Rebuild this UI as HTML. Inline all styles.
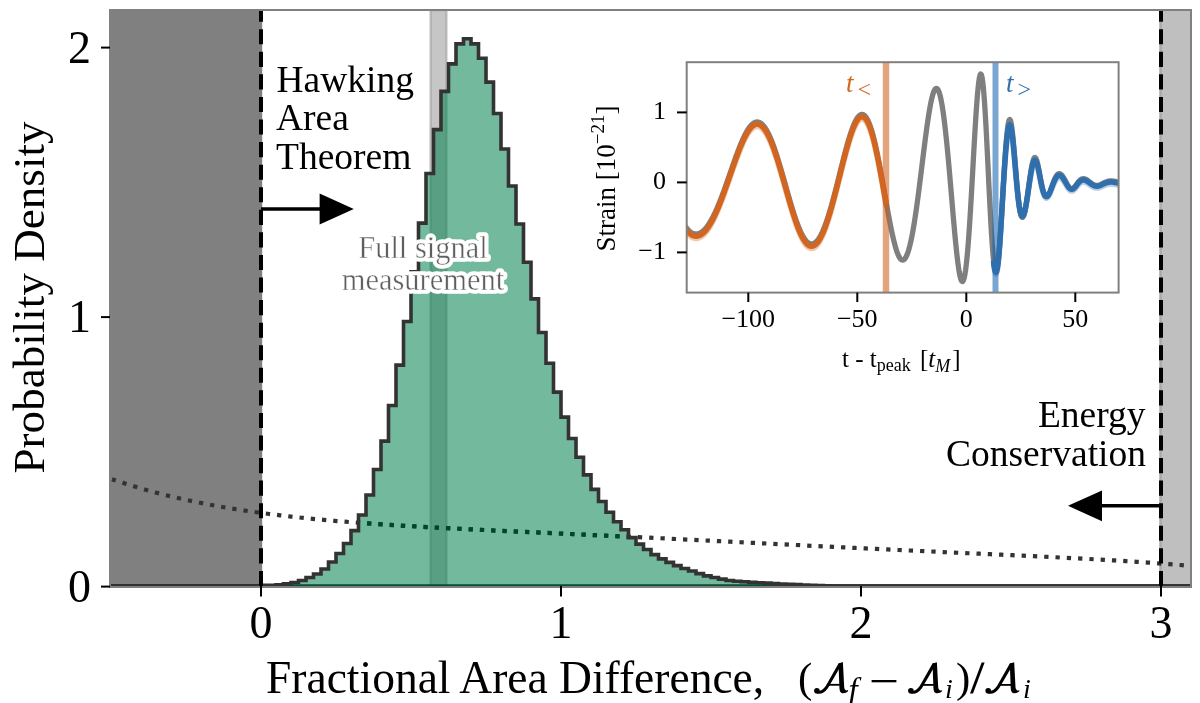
<!DOCTYPE html>
<html><head><meta charset="utf-8"><style>
html,body{margin:0;padding:0;background:#fff;width:1200px;height:703px;overflow:hidden}
svg{display:block;will-change:transform}
</style></head><body>
<svg width="1200" height="703" viewBox="0 0 1200 703">
<defs>
<clipPath id="axclip"><rect x="110.0" y="10.0" width="1081.0" height="576.0"/></clipPath>
<clipPath id="hclip"><path d="M105.00,586.00 L261.00,586.00 L261.00,585.41 L268.50,585.41 L268.50,585.19 L276.00,585.19 L276.00,584.71 L283.50,584.71 L283.50,583.71 L291.00,583.71 L291.00,582.52 L298.50,582.52 L298.50,580.50 L306.00,580.50 L306.00,577.51 L313.50,577.51 L313.50,574.01 L321.00,574.01 L321.00,569.02 L328.50,569.02 L328.50,562.01 L336.00,562.01 L336.00,553.53 L343.50,553.53 L343.50,543.55 L351.00,543.55 L351.00,530.62 L358.50,530.62 L358.50,514.99 L366.00,514.99 L366.00,495.04 L373.50,495.04 L373.50,469.44 L381.00,469.44 L381.00,441.14 L388.50,441.14 L388.50,405.57 L396.00,405.57 L396.00,365.14 L403.50,365.14 L403.50,321.49 L411.00,321.49 L411.00,271.90 L418.50,271.90 L418.50,223.12 L426.00,223.12 L426.00,173.53 L433.50,173.53 L433.50,129.60 L441.00,129.60 L441.00,91.33 L448.50,91.33 L448.50,63.84 L456.00,63.84 L456.00,43.90 L463.50,43.90 L463.50,38.78 L471.00,38.78 L471.00,43.90 L478.50,43.90 L478.50,58.18 L486.00,58.18 L486.00,82.17 L493.50,82.17 L493.50,113.43 L501.00,113.43 L501.00,149.01 L508.50,149.01 L508.50,185.93 L516.00,185.93 L516.00,223.93 L523.50,223.93 L523.50,262.20 L531.00,262.20 L531.00,298.85 L538.50,298.85 L538.50,332.54 L546.00,332.54 L546.00,363.26 L553.50,363.26 L553.50,392.09 L561.00,392.09 L561.00,417.16 L568.50,417.16 L568.50,438.45 L576.00,438.45 L576.00,457.31 L583.50,457.31 L583.50,474.83 L591.00,474.83 L591.00,489.38 L598.50,489.38 L598.50,501.51 L606.00,501.51 L606.00,512.29 L613.50,512.29 L613.50,521.72 L621.00,521.72 L621.00,529.81 L628.50,529.81 L628.50,537.62 L636.00,537.62 L636.00,544.09 L643.50,544.09 L643.50,549.48 L651.00,549.48 L651.00,554.60 L658.50,554.60 L658.50,558.92 L666.00,558.92 L666.00,562.42 L673.50,562.42 L673.50,565.65 L681.00,565.65 L681.00,568.43 L688.50,568.43 L688.50,571.04 L696.00,571.04 L696.00,573.60 L703.50,573.60 L703.50,575.89 L711.00,575.89 L711.00,577.51 L718.50,577.51 L718.50,579.13 L726.00,579.13 L726.00,580.48 L733.50,580.48 L733.50,581.28 L741.00,581.28 L741.00,581.82 L748.50,581.82 L748.50,582.36 L756.00,582.36 L756.00,582.77 L763.50,582.77 L763.50,583.17 L771.00,583.17 L771.00,583.57 L778.50,583.57 L778.50,583.98 L786.00,583.98 L786.00,584.25 L793.50,584.25 L793.50,584.65 L801.00,584.65 L801.00,585.06 L808.50,585.06 L808.50,585.33 L816.00,585.33 L816.00,585.61 L823.50,585.61 L823.50,585.85 L831.00,585.85 L831.00,586.00 L838.50,586.00 L838.50,586.00 L846.00,586.00 L846.00,586.00 L853.50,586.00 L853.50,586.00 L861.00,586.00 L861.00,586.00 L868.50,586.00 L868.50,586.00 L876.00,586.00 L876.00,586.00 L883.50,586.00 L883.50,586.00 L891.00,586.00 L891.00,586.00 L1196.00,586.00 Z"/></clipPath>
<clipPath id="inclip"><rect x="686.7" y="62.2" width="431.89999999999986" height="230.40000000000003"/></clipPath>
</defs>
<rect width="1200" height="703" fill="#fff"/>
<g clip-path="url(#axclip)">
<rect x="110.0" y="10.0" width="152.2" height="576.0" fill="#808080"/>
<rect x="1161.0" y="10.0" width="30.0" height="576.0" fill="#bfbfbf"/><line x1="1160.5" y1="10.0" x2="1160.5" y2="586.0" stroke="#a9a9a9" stroke-width="2.5"/>
<rect x="430.5" y="10.0" width="16" height="576.0" fill="#808080" fill-opacity="0.45" stroke="#808080" stroke-opacity="0.4" stroke-width="2.3"/>
<path d="M112.00,479.16 L117.42,481.02 L122.84,482.81 L128.27,484.55 L133.69,486.23 L139.11,487.86 L144.53,489.43 L149.95,490.95 L155.38,492.42 L160.80,493.84 L166.22,495.21 L171.64,496.54 L177.07,497.82 L182.49,499.06 L187.91,500.25 L193.33,501.41 L198.75,502.52 L204.18,503.60 L209.60,504.64 L215.02,505.64 L220.44,506.61 L225.86,507.55 L231.29,508.45 L236.71,509.32 L242.13,510.17 L247.55,510.98 L252.97,511.76 L258.40,512.52 L263.82,513.25 L269.24,513.96 L274.66,514.64 L280.09,515.30 L285.51,515.94 L290.93,516.55 L296.35,517.14 L301.77,517.72 L307.20,518.27 L312.62,518.81 L318.04,519.33 L323.46,519.83 L328.88,520.32 L334.31,520.79 L339.73,521.24 L345.15,521.69 L350.57,522.12 L355.99,522.53 L361.42,522.94 L366.84,523.33 L372.26,523.71 L377.68,524.08 L383.11,524.45 L388.53,524.80 L393.95,525.14 L399.37,525.48 L404.79,525.81 L410.22,526.13 L415.64,526.44 L421.06,526.75 L426.48,527.06 L431.90,527.35 L437.33,527.64 L442.75,527.93 L448.17,528.21 L453.59,528.49 L459.02,528.77 L464.44,529.04 L469.86,529.30 L475.28,529.57 L480.70,529.83 L486.13,530.09 L491.55,530.35 L496.97,530.61 L502.39,530.86 L507.81,531.12 L513.24,531.37 L518.66,531.62 L524.08,531.87 L529.50,532.12 L534.92,532.37 L540.35,532.62 L545.77,532.87 L551.19,533.12 L556.61,533.37 L562.04,533.62 L567.46,533.87 L572.88,534.12 L578.30,534.37 L583.72,534.62 L589.15,534.87 L594.57,535.12 L599.99,535.38 L605.41,535.63 L610.83,535.88 L616.26,536.14 L621.68,536.40 L627.10,536.65 L632.52,536.91 L637.94,537.17 L643.37,537.43 L648.79,537.69 L654.21,537.96 L659.63,538.22 L665.06,538.48 L670.48,538.75 L675.90,539.01 L681.32,539.28 L686.74,539.55 L692.17,539.81 L697.59,540.08 L703.01,540.35 L708.43,540.62 L713.85,540.89 L719.28,541.16 L724.70,541.43 L730.12,541.70 L735.54,541.98 L740.96,542.25 L746.39,542.52 L751.81,542.79 L757.23,543.07 L762.65,543.34 L768.08,543.61 L773.50,543.88 L778.92,544.15 L784.34,544.42 L789.76,544.70 L795.19,544.97 L800.61,545.24 L806.03,545.51 L811.45,545.78 L816.87,546.05 L822.30,546.31 L827.72,546.58 L833.14,546.85 L838.56,547.11 L843.98,547.38 L849.41,547.64 L854.83,547.91 L860.25,548.17 L865.67,548.43 L871.10,548.69 L876.52,548.95 L881.94,549.21 L887.36,549.47 L892.78,549.72 L898.21,549.98 L903.63,550.23 L909.05,550.49 L914.47,550.74 L919.89,550.99 L925.32,551.24 L930.74,551.49 L936.16,551.74 L941.58,551.99 L947.01,552.24 L952.43,552.49 L957.85,552.73 L963.27,552.98 L968.69,553.23 L974.12,553.47 L979.54,553.72 L984.96,553.97 L990.38,554.21 L995.80,554.46 L1001.23,554.71 L1006.65,554.96 L1012.07,555.21 L1017.49,555.46 L1022.91,555.71 L1028.34,555.96 L1033.76,556.22 L1039.18,556.48 L1044.60,556.74 L1050.03,557.00 L1055.45,557.26 L1060.87,557.53 L1066.29,557.80 L1071.71,558.08 L1077.14,558.36 L1082.56,558.64 L1087.98,558.93 L1093.40,559.23 L1098.82,559.53 L1104.25,559.83 L1109.67,560.15 L1115.09,560.47 L1120.51,560.79 L1125.93,561.13 L1131.36,561.47 L1136.78,561.82 L1142.20,562.18 L1147.62,562.55 L1153.05,562.93 L1158.47,563.33 L1163.89,563.73 L1169.31,564.15 L1174.73,564.57 L1180.16,565.02 L1185.58,565.47 L1191.00,565.94" fill="none" stroke="#333" stroke-width="4.2" stroke-dasharray="4.3 7.0" stroke-dashoffset="0.3"/>
<path d="M112.00,479.16 L117.42,481.02 L122.84,482.81 L128.27,484.55 L133.69,486.23 L139.11,487.86 L144.53,489.43 L149.95,490.95 L155.38,492.42 L160.80,493.84 L166.22,495.21 L171.64,496.54 L177.07,497.82 L182.49,499.06 L187.91,500.25 L193.33,501.41 L198.75,502.52 L204.18,503.60 L209.60,504.64 L215.02,505.64 L220.44,506.61 L225.86,507.55 L231.29,508.45 L236.71,509.32 L242.13,510.17 L247.55,510.98 L252.97,511.76 L258.40,512.52 L263.82,513.25 L269.24,513.96 L274.66,514.64 L280.09,515.30 L285.51,515.94 L290.93,516.55 L296.35,517.14 L301.77,517.72 L307.20,518.27 L312.62,518.81 L318.04,519.33 L323.46,519.83 L328.88,520.32 L334.31,520.79 L339.73,521.24 L345.15,521.69 L350.57,522.12 L355.99,522.53 L361.42,522.94 L366.84,523.33 L372.26,523.71 L377.68,524.08 L383.11,524.45 L388.53,524.80 L393.95,525.14 L399.37,525.48 L404.79,525.81 L410.22,526.13 L415.64,526.44 L421.06,526.75 L426.48,527.06 L431.90,527.35 L437.33,527.64 L442.75,527.93 L448.17,528.21 L453.59,528.49 L459.02,528.77 L464.44,529.04 L469.86,529.30 L475.28,529.57 L480.70,529.83 L486.13,530.09 L491.55,530.35 L496.97,530.61 L502.39,530.86 L507.81,531.12 L513.24,531.37 L518.66,531.62 L524.08,531.87 L529.50,532.12 L534.92,532.37 L540.35,532.62 L545.77,532.87 L551.19,533.12 L556.61,533.37 L562.04,533.62 L567.46,533.87 L572.88,534.12 L578.30,534.37 L583.72,534.62 L589.15,534.87 L594.57,535.12 L599.99,535.38 L605.41,535.63 L610.83,535.88 L616.26,536.14 L621.68,536.40 L627.10,536.65 L632.52,536.91 L637.94,537.17 L643.37,537.43 L648.79,537.69 L654.21,537.96 L659.63,538.22 L665.06,538.48 L670.48,538.75 L675.90,539.01 L681.32,539.28 L686.74,539.55 L692.17,539.81 L697.59,540.08 L703.01,540.35 L708.43,540.62 L713.85,540.89 L719.28,541.16 L724.70,541.43 L730.12,541.70 L735.54,541.98 L740.96,542.25 L746.39,542.52 L751.81,542.79 L757.23,543.07 L762.65,543.34 L768.08,543.61 L773.50,543.88 L778.92,544.15 L784.34,544.42 L789.76,544.70 L795.19,544.97 L800.61,545.24 L806.03,545.51 L811.45,545.78 L816.87,546.05 L822.30,546.31 L827.72,546.58 L833.14,546.85 L838.56,547.11 L843.98,547.38 L849.41,547.64 L854.83,547.91 L860.25,548.17 L865.67,548.43 L871.10,548.69 L876.52,548.95 L881.94,549.21 L887.36,549.47 L892.78,549.72 L898.21,549.98 L903.63,550.23 L909.05,550.49 L914.47,550.74 L919.89,550.99 L925.32,551.24 L930.74,551.49 L936.16,551.74 L941.58,551.99 L947.01,552.24 L952.43,552.49 L957.85,552.73 L963.27,552.98 L968.69,553.23 L974.12,553.47 L979.54,553.72 L984.96,553.97 L990.38,554.21 L995.80,554.46 L1001.23,554.71 L1006.65,554.96 L1012.07,555.21 L1017.49,555.46 L1022.91,555.71 L1028.34,555.96 L1033.76,556.22 L1039.18,556.48 L1044.60,556.74 L1050.03,557.00 L1055.45,557.26 L1060.87,557.53 L1066.29,557.80 L1071.71,558.08 L1077.14,558.36 L1082.56,558.64 L1087.98,558.93 L1093.40,559.23 L1098.82,559.53 L1104.25,559.83 L1109.67,560.15 L1115.09,560.47 L1120.51,560.79 L1125.93,561.13 L1131.36,561.47 L1136.78,561.82 L1142.20,562.18 L1147.62,562.55 L1153.05,562.93 L1158.47,563.33 L1163.89,563.73 L1169.31,564.15 L1174.73,564.57 L1180.16,565.02 L1185.58,565.47 L1191.00,565.94" clip-path="url(#hclip)" fill="none" stroke="#000" stroke-width="4.2" stroke-dasharray="4.3 7.0" stroke-dashoffset="0.3"/>
<line x1="110.0" y1="585.1" x2="1191.0" y2="585.1" stroke="#111" stroke-width="1.8"/>
<path d="M105.00,586.00 L261.00,586.00 L261.00,585.41 L268.50,585.41 L268.50,585.19 L276.00,585.19 L276.00,584.71 L283.50,584.71 L283.50,583.71 L291.00,583.71 L291.00,582.52 L298.50,582.52 L298.50,580.50 L306.00,580.50 L306.00,577.51 L313.50,577.51 L313.50,574.01 L321.00,574.01 L321.00,569.02 L328.50,569.02 L328.50,562.01 L336.00,562.01 L336.00,553.53 L343.50,553.53 L343.50,543.55 L351.00,543.55 L351.00,530.62 L358.50,530.62 L358.50,514.99 L366.00,514.99 L366.00,495.04 L373.50,495.04 L373.50,469.44 L381.00,469.44 L381.00,441.14 L388.50,441.14 L388.50,405.57 L396.00,405.57 L396.00,365.14 L403.50,365.14 L403.50,321.49 L411.00,321.49 L411.00,271.90 L418.50,271.90 L418.50,223.12 L426.00,223.12 L426.00,173.53 L433.50,173.53 L433.50,129.60 L441.00,129.60 L441.00,91.33 L448.50,91.33 L448.50,63.84 L456.00,63.84 L456.00,43.90 L463.50,43.90 L463.50,38.78 L471.00,38.78 L471.00,43.90 L478.50,43.90 L478.50,58.18 L486.00,58.18 L486.00,82.17 L493.50,82.17 L493.50,113.43 L501.00,113.43 L501.00,149.01 L508.50,149.01 L508.50,185.93 L516.00,185.93 L516.00,223.93 L523.50,223.93 L523.50,262.20 L531.00,262.20 L531.00,298.85 L538.50,298.85 L538.50,332.54 L546.00,332.54 L546.00,363.26 L553.50,363.26 L553.50,392.09 L561.00,392.09 L561.00,417.16 L568.50,417.16 L568.50,438.45 L576.00,438.45 L576.00,457.31 L583.50,457.31 L583.50,474.83 L591.00,474.83 L591.00,489.38 L598.50,489.38 L598.50,501.51 L606.00,501.51 L606.00,512.29 L613.50,512.29 L613.50,521.72 L621.00,521.72 L621.00,529.81 L628.50,529.81 L628.50,537.62 L636.00,537.62 L636.00,544.09 L643.50,544.09 L643.50,549.48 L651.00,549.48 L651.00,554.60 L658.50,554.60 L658.50,558.92 L666.00,558.92 L666.00,562.42 L673.50,562.42 L673.50,565.65 L681.00,565.65 L681.00,568.43 L688.50,568.43 L688.50,571.04 L696.00,571.04 L696.00,573.60 L703.50,573.60 L703.50,575.89 L711.00,575.89 L711.00,577.51 L718.50,577.51 L718.50,579.13 L726.00,579.13 L726.00,580.48 L733.50,580.48 L733.50,581.28 L741.00,581.28 L741.00,581.82 L748.50,581.82 L748.50,582.36 L756.00,582.36 L756.00,582.77 L763.50,582.77 L763.50,583.17 L771.00,583.17 L771.00,583.57 L778.50,583.57 L778.50,583.98 L786.00,583.98 L786.00,584.25 L793.50,584.25 L793.50,584.65 L801.00,584.65 L801.00,585.06 L808.50,585.06 L808.50,585.33 L816.00,585.33 L816.00,585.61 L823.50,585.61 L823.50,585.85 L831.00,585.85 L831.00,586.00 L838.50,586.00 L838.50,586.00 L846.00,586.00 L846.00,586.00 L853.50,586.00 L853.50,586.00 L861.00,586.00 L861.00,586.00 L868.50,586.00 L868.50,586.00 L876.00,586.00 L876.00,586.00 L883.50,586.00 L883.50,586.00 L891.00,586.00 L891.00,586.00 L1196.00,586.00 Z" fill="#00804f" fill-opacity="0.55"/>
<path d="M105.00,586.00 L261.00,586.00 L261.00,585.41 L268.50,585.41 L268.50,585.19 L276.00,585.19 L276.00,584.71 L283.50,584.71 L283.50,583.71 L291.00,583.71 L291.00,582.52 L298.50,582.52 L298.50,580.50 L306.00,580.50 L306.00,577.51 L313.50,577.51 L313.50,574.01 L321.00,574.01 L321.00,569.02 L328.50,569.02 L328.50,562.01 L336.00,562.01 L336.00,553.53 L343.50,553.53 L343.50,543.55 L351.00,543.55 L351.00,530.62 L358.50,530.62 L358.50,514.99 L366.00,514.99 L366.00,495.04 L373.50,495.04 L373.50,469.44 L381.00,469.44 L381.00,441.14 L388.50,441.14 L388.50,405.57 L396.00,405.57 L396.00,365.14 L403.50,365.14 L403.50,321.49 L411.00,321.49 L411.00,271.90 L418.50,271.90 L418.50,223.12 L426.00,223.12 L426.00,173.53 L433.50,173.53 L433.50,129.60 L441.00,129.60 L441.00,91.33 L448.50,91.33 L448.50,63.84 L456.00,63.84 L456.00,43.90 L463.50,43.90 L463.50,38.78 L471.00,38.78 L471.00,43.90 L478.50,43.90 L478.50,58.18 L486.00,58.18 L486.00,82.17 L493.50,82.17 L493.50,113.43 L501.00,113.43 L501.00,149.01 L508.50,149.01 L508.50,185.93 L516.00,185.93 L516.00,223.93 L523.50,223.93 L523.50,262.20 L531.00,262.20 L531.00,298.85 L538.50,298.85 L538.50,332.54 L546.00,332.54 L546.00,363.26 L553.50,363.26 L553.50,392.09 L561.00,392.09 L561.00,417.16 L568.50,417.16 L568.50,438.45 L576.00,438.45 L576.00,457.31 L583.50,457.31 L583.50,474.83 L591.00,474.83 L591.00,489.38 L598.50,489.38 L598.50,501.51 L606.00,501.51 L606.00,512.29 L613.50,512.29 L613.50,521.72 L621.00,521.72 L621.00,529.81 L628.50,529.81 L628.50,537.62 L636.00,537.62 L636.00,544.09 L643.50,544.09 L643.50,549.48 L651.00,549.48 L651.00,554.60 L658.50,554.60 L658.50,558.92 L666.00,558.92 L666.00,562.42 L673.50,562.42 L673.50,565.65 L681.00,565.65 L681.00,568.43 L688.50,568.43 L688.50,571.04 L696.00,571.04 L696.00,573.60 L703.50,573.60 L703.50,575.89 L711.00,575.89 L711.00,577.51 L718.50,577.51 L718.50,579.13 L726.00,579.13 L726.00,580.48 L733.50,580.48 L733.50,581.28 L741.00,581.28 L741.00,581.82 L748.50,581.82 L748.50,582.36 L756.00,582.36 L756.00,582.77 L763.50,582.77 L763.50,583.17 L771.00,583.17 L771.00,583.57 L778.50,583.57 L778.50,583.98 L786.00,583.98 L786.00,584.25 L793.50,584.25 L793.50,584.65 L801.00,584.65 L801.00,585.06 L808.50,585.06 L808.50,585.33 L816.00,585.33 L816.00,585.61 L823.50,585.61 L823.50,585.85 L831.00,585.85 L831.00,586.00 L838.50,586.00 L838.50,586.00 L846.00,586.00 L846.00,586.00 L853.50,586.00 L853.50,586.00 L861.00,586.00 L861.00,586.00 L868.50,586.00 L868.50,586.00 L876.00,586.00 L876.00,586.00 L883.50,586.00 L883.50,586.00 L891.00,586.00 L891.00,586.00 L1196.00,586.00" fill="none" stroke="#333" stroke-width="3.6" stroke-linejoin="miter"/>
<line x1="261.0" y1="586.0" x2="261.0" y2="10.0" stroke="#000" stroke-width="4" stroke-dasharray="15.1 7.47"/>
<line x1="1161.0" y1="586.0" x2="1161.0" y2="10.0" stroke="#000" stroke-width="4" stroke-dasharray="15.1 7.47"/>
</g>
<path d="M110.0,10.0 L1191.0,10.0 M110.0,9.0 L110.0,588.0 M1191.0,9.0 L1191.0,588.0 M109.0,587.0 L1192.0,587.0" fill="none" stroke="#808080" stroke-width="2"/>
<line x1="101" y1="586.6" x2="110.0" y2="586.6" stroke="#000" stroke-width="2"/>
<text x="91" y="601.5" text-anchor="end" font-family='"Liberation Serif", serif' font-size="46">0</text>
<line x1="101" y1="317.1" x2="110.0" y2="317.1" stroke="#000" stroke-width="2"/>
<text x="91" y="332.0" text-anchor="end" font-family='"Liberation Serif", serif' font-size="46">1</text>
<line x1="101" y1="47.6" x2="110.0" y2="47.6" stroke="#000" stroke-width="2"/>
<text x="91" y="62.5" text-anchor="end" font-family='"Liberation Serif", serif' font-size="46">2</text>
<line x1="261.0" y1="586.0" x2="261.0" y2="596.5" stroke="#000" stroke-width="2"/>
<text x="261.0" y="637.5" text-anchor="middle" font-family='"Liberation Serif", serif' font-size="46">0</text>
<line x1="561.0" y1="586.0" x2="561.0" y2="596.5" stroke="#000" stroke-width="2"/>
<text x="561.0" y="637.5" text-anchor="middle" font-family='"Liberation Serif", serif' font-size="46">1</text>
<line x1="861.0" y1="586.0" x2="861.0" y2="596.5" stroke="#000" stroke-width="2"/>
<text x="861.0" y="637.5" text-anchor="middle" font-family='"Liberation Serif", serif' font-size="46">2</text>
<line x1="1161.0" y1="586.0" x2="1161.0" y2="596.5" stroke="#000" stroke-width="2"/>
<text x="1161.0" y="637.5" text-anchor="middle" font-family='"Liberation Serif", serif' font-size="46">3</text>
<text transform="translate(43.5,297.5) rotate(-90)" text-anchor="middle" font-family='"Liberation Serif", serif' font-size="45.1">Probability Density</text>
<text x="266" y="692.8" font-family='"Liberation Serif", serif' font-size="45.5">Fractional Area Difference,</text>
<g fill="#000"><text x="798" y="692" font-family='"Liberation Serif", serif' font-size="43">(</text><g transform="translate(816.9,690.7)"><circle cx="0" cy="0" r="2.8"/><path d="M0,2.8 C4,3.8 7.5,2 11,-2.5 L26,-28.4 L21.6,-27.2 L9,-5 C6,-0.8 3.5,0.5 0,0.3 Z"/><path d="M21.6,-27.2 L26,-28.4 L27.3,-3.5 C27.5,-1 29,0.3 31,-0.6 L31.3,0.2 C29.3,2.6 25,3.3 23.5,1.2 C22.8,0.2 22.6,-1.5 22.5,-3.5 Z"/><path d="M10,-6.8 L23,-6.8 L23,-5 L10,-5 Z"/></g><text x="848.5" y="701" font-family='"Liberation Serif", serif' font-size="33" font-style="italic">f</text><rect x="871.6" y="680" width="24.8" height="2.3"/><g transform="translate(910.9,690.8)"><circle cx="0" cy="0" r="2.8"/><path d="M0,2.8 C4,3.8 7.5,2 11,-2.5 L26,-28.4 L21.6,-27.2 L9,-5 C6,-0.8 3.5,0.5 0,0.3 Z"/><path d="M21.6,-27.2 L26,-28.4 L27.3,-3.5 C27.5,-1 29,0.3 31,-0.6 L31.3,0.2 C29.3,2.6 25,3.3 23.5,1.2 C22.8,0.2 22.6,-1.5 22.5,-3.5 Z"/><path d="M10,-6.8 L23,-6.8 L23,-5 L10,-5 Z"/></g><text x="945" y="698" font-family='"Liberation Serif", serif' font-size="28" font-style="italic">i</text><text x="956" y="692" font-family='"Liberation Serif", serif' font-size="43">)</text><path d="M981.6,662.4 L984.6,662.4 L973,693.5 L970,693.5 Z"/><g transform="translate(988.2,690.8)"><circle cx="0" cy="0" r="2.8"/><path d="M0,2.8 C4,3.8 7.5,2 11,-2.5 L26,-28.4 L21.6,-27.2 L9,-5 C6,-0.8 3.5,0.5 0,0.3 Z"/><path d="M21.6,-27.2 L26,-28.4 L27.3,-3.5 C27.5,-1 29,0.3 31,-0.6 L31.3,0.2 C29.3,2.6 25,3.3 23.5,1.2 C22.8,0.2 22.6,-1.5 22.5,-3.5 Z"/><path d="M10,-6.8 L23,-6.8 L23,-5 L10,-5 Z"/></g><text x="1023" y="698" font-family='"Liberation Serif", serif' font-size="28" font-style="italic">i</text></g>
<g font-family='"Liberation Serif", serif' font-size="37.5"><text x="276.5" y="91.8">Hawking</text><text x="276" y="129.8">Area</text><text x="276" y="168.9">Theorem</text></g>
<g font-family='"Liberation Serif", serif' font-size="37.5" text-anchor="end"><text x="1145.5" y="427">Energy</text><text x="1146" y="465.6">Conservation</text></g>
<line x1="261.0" y1="209.1" x2="322" y2="209.1" stroke="#000" stroke-width="3.5"/><path d="M319.6,193.6 L353.8,209.1 L319.6,224.5 Z" fill="#000"/>
<line x1="1161.0" y1="505.8" x2="1099" y2="505.8" stroke="#000" stroke-width="3.5"/><path d="M1102,490.4 L1068,505.8 L1102,521.2 Z" fill="#000"/>
<g font-family='"Liberation Serif", serif' font-size="30.5" text-anchor="middle"><g stroke="#fff" stroke-width="7.5" stroke-linejoin="round" fill="#fff"><text x="423" y="258">Full signal</text><text x="423" y="289.7">measurement</text></g><g fill="#5e5e5e" stroke="#fff" stroke-width="0.45"><text x="423" y="258">Full signal</text><text x="423" y="289.7">measurement</text></g></g>
<rect x="686.7" y="62.2" width="431.89999999999986" height="230.40000000000003" fill="#fff"/>
<g clip-path="url(#inclip)"><path d="M681.70,220.28 L682.33,221.43 L682.96,222.54 L683.60,223.60 L684.23,224.62 L684.86,225.58 L685.49,226.50 L686.13,227.36 L686.76,228.18 L687.39,228.94 L688.02,229.65 L688.65,230.31 L689.29,230.91 L689.92,231.47 L690.55,231.97 L691.18,232.41 L691.82,232.80 L692.45,233.13 L693.08,233.42 L693.71,233.64 L694.34,233.81 L694.98,233.93 L695.61,233.99 L696.24,234.00 L696.87,233.95 L697.50,233.86 L698.14,233.72 L698.77,233.53 L699.40,233.29 L700.03,233.00 L700.67,232.66 L701.30,232.27 L701.93,231.84 L702.56,231.36 L703.19,230.83 L703.83,230.25 L704.46,229.63 L705.09,228.96 L705.72,228.24 L706.36,227.48 L706.99,226.67 L707.62,225.82 L708.25,224.92 L708.88,223.98 L709.52,222.99 L710.15,221.97 L710.78,220.90 L711.41,219.79 L712.05,218.64 L712.68,217.44 L713.31,216.21 L713.94,214.95 L714.57,213.64 L715.21,212.30 L715.84,210.92 L716.47,209.51 L717.10,208.07 L717.73,206.59 L718.37,205.08 L719.00,203.54 L719.63,201.98 L720.26,200.38 L720.90,198.77 L721.53,197.12 L722.16,195.45 L722.79,193.76 L723.42,192.06 L724.06,190.33 L724.69,188.58 L725.32,186.82 L725.95,185.05 L726.59,183.26 L727.22,181.46 L727.85,179.66 L728.48,177.85 L729.11,176.03 L729.75,174.21 L730.38,172.39 L731.01,170.56 L731.64,168.75 L732.28,166.93 L732.91,165.13 L733.54,163.33 L734.17,161.54 L734.80,159.77 L735.44,158.01 L736.07,156.27 L736.70,154.55 L737.33,152.84 L737.96,151.17 L738.60,149.52 L739.23,147.89 L739.86,146.30 L740.49,144.74 L741.13,143.21 L741.76,141.72 L742.39,140.27 L743.02,138.86 L743.65,137.50 L744.29,136.18 L744.92,134.90 L745.55,133.67 L746.18,132.50 L746.82,131.38 L747.45,130.31 L748.08,129.30 L748.71,128.35 L749.34,127.46 L749.98,126.63 L750.61,125.86 L751.24,125.16 L751.87,124.53 L752.51,123.96 L753.14,123.46 L753.77,123.04 L754.40,122.68 L755.03,122.40 L755.67,122.19 L756.30,122.06 L756.93,122.00 L757.56,122.01 L758.19,122.10 L758.83,122.26 L759.46,122.50 L760.09,122.81 L760.72,123.19 L761.36,123.64 L761.99,124.17 L762.62,124.77 L763.25,125.45 L763.88,126.19 L764.52,127.01 L765.15,127.90 L765.78,128.86 L766.41,129.89 L767.05,130.99 L767.68,132.15 L768.31,133.38 L768.94,134.68 L769.57,136.04 L770.21,137.46 L770.84,138.94 L771.47,140.48 L772.10,142.08 L772.74,143.73 L773.37,145.44 L774.00,147.20 L774.63,149.00 L775.26,150.85 L775.90,152.75 L776.53,154.69 L777.16,156.67 L777.79,158.68 L778.42,160.73 L779.06,162.81 L779.69,164.93 L780.32,167.06 L780.95,169.22 L781.59,171.40 L782.22,173.60 L782.85,175.82 L783.48,178.04 L784.11,180.28 L784.75,182.52 L785.38,184.76 L786.01,187.00 L786.64,189.24 L787.28,191.47 L787.91,193.69 L788.54,195.90 L789.17,198.09 L789.80,200.27 L790.44,202.42 L791.07,204.54 L791.70,206.64 L792.33,208.71 L792.97,210.74 L793.60,212.74 L794.23,214.70 L794.86,216.61 L795.49,218.48 L796.13,220.30 L796.76,222.07 L797.39,223.78 L798.02,225.44 L798.65,227.05 L799.29,228.59 L799.92,230.07 L800.55,231.48 L801.18,232.83 L801.82,234.11 L802.45,235.32 L803.08,236.45 L803.71,237.51 L804.34,238.50 L804.98,239.40 L805.61,240.23 L806.24,240.98 L806.87,241.65 L807.51,242.24 L808.14,242.74 L808.77,243.16 L809.40,243.50 L810.03,243.75 L810.67,243.91 L811.30,244.00 L811.93,243.99 L812.56,243.90 L813.20,243.73 L813.83,243.47 L814.46,243.13 L815.09,242.70 L815.72,242.20 L816.36,241.60 L816.99,240.93 L817.62,240.18 L818.25,239.34 L818.88,238.42 L819.52,237.42 L820.15,236.35 L820.78,235.20 L821.41,233.97 L822.05,232.66 L822.68,231.28 L823.31,229.83 L823.94,228.31 L824.57,226.72 L825.21,225.06 L825.84,223.33 L826.47,221.54 L827.10,219.69 L827.74,217.78 L828.37,215.81 L829.00,213.79 L829.63,211.71 L830.26,209.58 L830.90,207.40 L831.53,205.18 L832.16,202.91 L832.79,200.61 L833.43,198.26 L834.06,195.89 L834.69,193.48 L835.32,191.04 L835.95,188.58 L836.59,186.10 L837.22,183.60 L837.85,181.09 L838.48,178.56 L839.12,176.03 L839.75,173.50 L840.38,170.96 L841.01,168.43 L841.64,165.91 L842.28,163.40 L842.91,160.91 L843.54,158.44 L844.17,155.99 L844.80,153.57 L845.44,151.18 L846.07,148.83 L846.70,146.53 L847.33,144.27 L847.97,142.05 L848.60,139.90 L849.23,137.80 L849.86,135.76 L850.49,133.80 L851.13,131.90 L851.76,130.08 L852.39,128.34 L853.02,126.68 L853.66,125.12 L854.29,123.64 L854.92,122.26 L855.55,120.98 L856.18,119.81 L856.82,118.74 L857.45,117.78 L858.08,116.94 L858.71,116.22 L859.35,115.61 L859.98,115.13 L860.61,114.78 L861.24,114.55 L861.87,114.46 L862.51,114.50 L863.14,114.67 L863.77,114.98 L864.40,115.43 L865.03,116.01 L865.67,116.73 L866.30,117.60 L866.93,118.60 L867.56,119.74 L868.20,121.02 L868.83,122.44 L869.46,123.99 L870.09,125.68 L870.72,127.51 L871.36,129.46 L871.99,131.55 L872.62,133.76 L873.25,136.10 L873.89,138.55 L874.52,141.12 L875.15,143.80 L875.78,146.59 L876.41,149.48 L877.05,152.46 L877.68,155.54 L878.31,158.69 L878.94,161.93 L879.58,165.24 L880.21,168.61 L880.84,172.04 L881.47,175.52 L882.10,179.04 L882.74,182.59 L883.37,186.17 L884.00,189.77 L884.63,193.37 L885.26,196.97 L885.90,200.56 L886.53,204.13 L887.16,207.67 L887.79,211.17 L888.43,214.62 L889.06,218.02 L889.69,221.35 L890.32,224.60 L890.95,227.77 L891.59,230.84 L892.22,233.80 L892.85,236.65 L893.48,239.37 L894.12,241.97 L894.75,244.42 L895.38,246.72 L896.01,248.86 L896.64,250.84 L897.28,252.65 L897.91,254.27 L898.54,255.71 L899.17,256.95 L899.81,258.00 L900.44,258.83 L901.07,259.46 L901.70,259.88 L902.33,260.08 L902.97,260.07 L903.60,259.84 L904.23,259.39 L904.86,258.73 L905.49,257.85 L906.13,256.74 L906.76,255.41 L907.39,253.85 L908.02,252.07 L908.66,250.06 L909.29,247.84 L909.92,245.39 L910.55,242.72 L911.18,239.85 L911.82,236.76 L912.45,233.47 L913.08,229.98 L913.71,226.31 L914.35,222.44 L914.98,218.41 L915.61,214.21 L916.24,209.86 L916.87,205.36 L917.51,200.73 L918.14,195.99 L918.77,191.14 L919.40,186.21 L920.04,181.20 L920.67,176.13 L921.30,171.03 L921.93,165.90 L922.56,160.77 L923.20,155.66 L923.83,150.58 L924.46,145.56 L925.09,140.62 L925.72,135.78 L926.36,131.05 L926.99,126.47 L927.62,122.05 L928.25,117.81 L928.89,113.78 L929.52,109.97 L930.15,106.41 L930.78,103.11 L931.41,100.11 L932.05,97.40 L932.68,95.02 L933.31,92.98 L933.94,91.30 L934.58,89.98 L935.21,89.05 L935.84,88.51 L936.47,88.37 L937.10,88.64 L937.74,89.32 L938.37,90.41 L939.00,91.93 L939.63,93.86 L940.27,96.21 L940.90,98.98 L941.53,102.17 L942.16,105.76 L942.79,109.74 L943.43,114.12 L944.06,118.87 L944.69,123.99 L945.32,129.45 L945.95,135.23 L946.59,141.32 L947.22,147.69 L947.85,154.31 L948.48,161.16 L949.12,168.20 L949.75,175.39 L950.38,182.71 L951.01,190.11 L951.64,197.55 L952.28,204.98 L952.91,212.36 L953.54,219.65 L954.17,226.78 L954.81,233.71 L955.44,240.39 L956.07,246.76 L956.70,252.77 L957.33,258.35 L957.97,263.46 L958.60,268.04 L959.23,272.04 L959.86,275.40 L960.50,278.07 L961.13,280.01 L961.76,281.17 L962.39,281.52 L963.02,281.04 L963.66,279.70 L964.29,277.49 L964.92,274.38 L965.55,270.37 L966.18,265.45 L966.82,259.64 L967.45,252.95 L968.08,245.42 L968.71,237.10 L969.35,228.05 L969.98,218.34 L970.61,208.06 L971.24,197.32 L971.87,186.21 L972.51,174.87 L973.14,163.44 L973.77,152.06 L974.40,140.88 L975.04,130.06 L975.67,119.77 L976.30,110.15 L976.93,101.37 L977.56,93.58 L978.20,86.93 L978.83,81.54 L979.46,77.53 L980.09,74.99 L980.73,74.01 L981.36,74.65 L981.99,76.97 L982.62,80.96 L983.25,86.54 L983.89,93.64 L984.52,102.14 L985.15,111.89 L985.78,122.72 L986.42,134.44 L987.05,146.83 L987.68,159.67 L988.31,172.73 L988.94,185.77 L989.58,198.57 L990.21,210.88 L990.84,222.50 L991.47,233.23 L992.10,242.88 L992.74,251.30 L993.37,258.36 L994.00,263.95 L994.63,267.99 L995.27,270.44 L995.90,271.29 L996.53,270.54 L997.16,268.18 L997.79,264.25 L998.43,258.86 L999.06,252.13 L999.69,244.20 L1000.32,235.27 L1000.96,225.51 L1001.59,215.14 L1002.22,204.37 L1002.85,193.44 L1003.48,182.57 L1004.12,171.98 L1004.75,161.90 L1005.38,152.53 L1006.01,144.05 L1006.65,136.64 L1007.28,130.43 L1007.91,125.54 L1008.54,122.05 L1009.17,120.01 L1009.81,119.44 L1010.44,120.31 L1011.07,122.65 L1011.70,126.36 L1012.33,131.30 L1012.97,137.29 L1013.60,144.13 L1014.23,151.58 L1014.86,159.40 L1015.50,167.37 L1016.13,175.25 L1016.76,182.83 L1017.39,189.92 L1018.02,196.37 L1018.66,202.05 L1019.29,206.89 L1019.92,210.81 L1020.55,213.80 L1021.19,215.86 L1021.82,217.03 L1022.45,217.36 L1023.08,216.90 L1023.71,215.67 L1024.35,213.70 L1024.98,211.05 L1025.61,207.82 L1026.24,204.09 L1026.88,199.96 L1027.51,195.54 L1028.14,190.92 L1028.77,186.22 L1029.40,181.55 L1030.04,177.02 L1030.67,172.75 L1031.30,168.84 L1031.93,165.38 L1032.56,162.46 L1033.20,160.15 L1033.83,158.52 L1034.46,157.61 L1035.09,157.42 L1035.73,157.97 L1036.36,159.22 L1036.99,161.11 L1037.62,163.55 L1038.25,166.44 L1038.89,169.65 L1039.52,173.08 L1040.15,176.58 L1040.78,180.04 L1041.42,183.35 L1042.05,186.40 L1042.68,189.13 L1043.31,191.47 L1043.94,193.37 L1044.58,194.83 L1045.21,195.84 L1045.84,196.42 L1046.47,196.59 L1047.11,196.40 L1047.74,195.85 L1048.37,194.98 L1049.00,193.83 L1049.63,192.45 L1050.27,190.90 L1050.90,189.21 L1051.53,187.46 L1052.16,185.67 L1052.79,183.89 L1053.43,182.18 L1054.06,180.55 L1054.69,179.05 L1055.32,177.70 L1055.96,176.52 L1056.59,175.53 L1057.22,174.74 L1057.85,174.16 L1058.48,173.79 L1059.12,173.64 L1059.75,173.69 L1060.38,173.94 L1061.01,174.37 L1061.65,174.98 L1062.28,175.74 L1062.91,176.63 L1063.54,177.64 L1064.17,178.74 L1064.81,179.90 L1065.44,181.08 L1066.07,182.28 L1066.70,183.44 L1067.34,184.55 L1067.97,185.58 L1068.60,186.50 L1069.23,187.28 L1069.86,187.91 L1070.50,188.37 L1071.13,188.65 L1071.76,188.75 L1072.39,188.65 L1073.02,188.37 L1073.66,187.92 L1074.29,187.32 L1074.92,186.60 L1075.55,185.79 L1076.19,184.92 L1076.82,184.03 L1077.45,183.14 L1078.08,182.29 L1078.71,181.51 L1079.35,180.80 L1079.98,180.18 L1080.61,179.67 L1081.24,179.27 L1081.88,178.98 L1082.51,178.79 L1083.14,178.69 L1083.77,178.69 L1084.40,178.77 L1085.04,178.94 L1085.67,179.19 L1086.30,179.50 L1086.93,179.88 L1087.57,180.30 L1088.20,180.75 L1088.83,181.24 L1089.46,181.73 L1090.09,182.23 L1090.73,182.72 L1091.36,183.20 L1091.99,183.64 L1092.62,184.05 L1093.25,184.42 L1093.89,184.73 L1094.52,184.99 L1095.15,185.19 L1095.78,185.33 L1096.42,185.40 L1097.05,185.41 L1097.68,185.36 L1098.31,185.25 L1098.94,185.09 L1099.58,184.88 L1100.21,184.63 L1100.84,184.35 L1101.47,184.04 L1102.11,183.72 L1102.74,183.39 L1103.37,183.07 L1104.00,182.75 L1104.63,182.45 L1105.27,182.16 L1105.90,181.91 L1106.53,181.68 L1107.16,181.48 L1107.80,181.31 L1108.43,181.18 L1109.06,181.08 L1109.69,181.00 L1110.32,180.96 L1110.96,180.95 L1111.59,180.96 L1112.22,180.99 L1112.85,181.05 L1113.48,181.13 L1114.12,181.22 L1114.75,181.33 L1115.38,181.46 L1116.01,181.59 L1116.65,181.74 L1117.28,181.88 L1117.91,182.02 L1118.54,182.16 L1119.17,182.30 L1119.81,182.42 L1120.44,182.54 L1121.07,182.64 L1121.70,182.73 L1122.34,182.81 L1122.97,182.88 L1123.60,182.93" fill="none" stroke="#7f7f7f" stroke-width="5.3" stroke-linejoin="round"/><line x1="886" y1="62.2" x2="886" y2="292.6" stroke="#cc5914" stroke-opacity="0.55" stroke-width="6.5"/><line x1="995.5" y1="62.2" x2="995.5" y2="292.6" stroke="#0d5dad" stroke-opacity="0.55" stroke-width="6"/><path d="M681.70,224.78 L682.29,225.85 L682.87,226.88 L683.46,227.88 L684.04,228.83 L684.63,229.74 L685.22,230.60 L685.80,231.43 L686.39,232.21 L686.98,232.95 L687.56,233.64 L688.15,234.29 L688.73,234.89 L689.32,235.45 L689.91,235.96 L690.49,236.42 L691.08,236.84 L691.67,237.21 L692.25,237.54 L692.84,237.82 L693.42,238.05 L694.01,238.23 L694.60,238.37 L695.18,238.45 L695.77,238.50 L696.36,238.49 L696.94,238.45 L697.53,238.36 L698.11,238.22 L698.70,238.05 L699.29,237.83 L699.87,237.58 L700.46,237.28 L701.05,236.93 L701.63,236.55 L702.22,236.13 L702.80,235.66 L703.39,235.15 L703.98,234.61 L704.56,234.02 L705.15,233.39 L705.74,232.73 L706.32,232.02 L706.91,231.27 L707.49,230.49 L708.08,229.67 L708.67,228.81 L709.25,227.91 L709.84,226.97 L710.43,226.00 L711.01,224.99 L711.60,223.95 L712.18,222.88 L712.77,221.76 L713.36,220.62 L713.94,219.44 L714.53,218.23 L715.12,216.99 L715.70,215.72 L716.29,214.42 L716.87,213.09 L717.46,211.73 L718.05,210.35 L718.63,208.94 L719.22,207.50 L719.81,206.04 L720.39,204.56 L720.98,203.05 L721.56,201.52 L722.15,199.98 L722.74,198.41 L723.32,196.83 L723.91,195.23 L724.50,193.62 L725.08,191.99 L725.67,190.35 L726.25,188.70 L726.84,187.04 L727.43,185.37 L728.01,183.69 L728.60,182.01 L729.19,180.32 L729.77,178.63 L730.36,176.94 L730.94,175.26 L731.53,173.57 L732.12,171.89 L732.70,170.21 L733.29,168.54 L733.88,166.88 L734.46,165.22 L735.05,163.59 L735.63,161.96 L736.22,160.35 L736.81,158.76 L737.39,157.18 L737.98,155.63 L738.57,154.10 L739.15,152.59 L739.74,151.11 L740.32,149.65 L740.91,148.23 L741.50,146.83 L742.08,145.47 L742.67,144.15 L743.26,142.85 L743.84,141.60 L744.43,140.39 L745.01,139.21 L745.60,138.08 L746.19,136.99 L746.77,135.95 L747.36,134.96 L747.95,134.01 L748.53,133.11 L749.12,132.27 L749.70,131.48 L750.29,130.74 L750.88,130.06 L751.46,129.43 L752.05,128.86 L752.64,128.35 L753.22,127.90 L753.81,127.51 L754.39,127.18 L754.98,126.92 L755.57,126.72 L756.15,126.58 L756.74,126.51 L757.33,126.50 L757.91,126.55 L758.50,126.67 L759.08,126.85 L759.67,127.09 L760.26,127.40 L760.84,127.77 L761.43,128.20 L762.02,128.70 L762.60,129.26 L763.19,129.88 L763.77,130.56 L764.36,131.30 L764.95,132.11 L765.53,132.98 L766.12,133.90 L766.71,134.89 L767.29,135.93 L767.88,137.04 L768.46,138.19 L769.05,139.41 L769.64,140.68 L770.22,142.00 L770.81,143.37 L771.40,144.80 L771.98,146.27 L772.57,147.79 L773.15,149.36 L773.74,150.97 L774.33,152.62 L774.91,154.32 L775.50,156.05 L776.09,157.83 L776.67,159.64 L777.26,161.48 L777.84,163.35 L778.43,165.25 L779.02,167.18 L779.60,169.14 L780.19,171.11 L780.78,173.11 L781.36,175.13 L781.95,177.16 L782.53,179.21 L783.12,181.27 L783.71,183.33 L784.29,185.41 L784.88,187.49 L785.47,189.56 L786.05,191.64 L786.64,193.72 L787.22,195.79 L787.81,197.85 L788.40,199.90 L788.98,201.94 L789.57,203.96 L790.16,205.96 L790.74,207.95 L791.33,209.91 L791.91,211.84 L792.50,213.75 L793.09,215.63 L793.67,217.48 L794.26,219.29 L794.85,221.06 L795.43,222.80 L796.02,224.49 L796.60,226.14 L797.19,227.75 L797.78,229.31 L798.36,230.81 L798.95,232.27 L799.54,233.68 L800.12,235.03 L800.71,236.32 L801.29,237.56 L801.88,238.74 L802.47,239.85 L803.05,240.90 L803.64,241.89 L804.23,242.82 L804.81,243.68 L805.40,244.47 L805.98,245.19 L806.57,245.84 L807.16,246.42 L807.74,246.94 L808.33,247.38 L808.92,247.75 L809.50,248.04 L810.09,248.27 L810.67,248.42 L811.26,248.49 L811.85,248.50 L812.43,248.43 L813.02,248.29 L813.61,248.07 L814.19,247.78 L814.78,247.43 L815.36,247.00 L815.95,246.49 L816.54,245.92 L817.12,245.28 L817.71,244.56 L818.30,243.78 L818.88,242.93 L819.47,242.00 L820.05,241.02 L820.64,239.96 L821.23,238.84 L821.81,237.65 L822.40,236.40 L822.99,235.09 L823.57,233.71 L824.16,232.27 L824.74,230.78 L825.33,229.22 L825.92,227.62 L826.50,225.95 L827.09,224.23 L827.68,222.46 L828.26,220.64 L828.85,218.78 L829.43,216.86 L830.02,214.91 L830.61,212.91 L831.19,210.86 L831.78,208.79 L832.37,206.67 L832.95,204.52 L833.54,202.34 L834.12,200.14 L834.71,197.90 L835.30,195.64 L835.88,193.36 L836.47,191.06 L837.06,188.75 L837.64,186.42 L838.23,184.08 L838.81,181.74 L839.40,179.39 L839.99,177.04 L840.57,174.69 L841.16,172.34 L841.75,170.01 L842.33,167.68 L842.92,165.37 L843.50,163.08 L844.09,160.81 L844.68,158.56 L845.26,156.34 L845.85,154.15 L846.44,151.99 L847.02,149.88 L847.61,147.80 L848.19,145.77 L848.78,143.79 L849.37,141.85 L849.95,139.98 L850.54,138.16 L851.13,136.40 L851.71,134.71 L852.30,133.09 L852.88,131.54 L853.47,130.07 L854.06,128.67 L854.64,127.35 L855.23,126.12 L855.82,124.98 L856.40,123.93 L856.99,122.97 L857.57,122.11 L858.16,121.34 L858.75,120.68 L859.33,120.12 L859.92,119.67 L860.51,119.33 L861.09,119.10 L861.68,118.98 L862.26,118.97 L862.85,119.08 L863.44,119.30 L864.02,119.64 L864.61,120.10 L865.20,120.68 L865.78,121.38 L866.37,122.20 L866.95,123.13 L867.54,124.19 L868.13,125.37 L868.71,126.67 L869.30,128.08 L869.89,129.61 L870.47,131.26 L871.06,133.02 L871.64,134.89 L872.23,136.88 L872.82,138.97 L873.40,141.16 L873.99,143.46 L874.58,145.86 L875.16,148.35 L875.75,150.93 L876.33,153.60 L876.92,156.36 L877.51,159.19 L878.09,162.09 L878.68,165.07 L879.27,168.11 L879.85,171.21 L880.44,174.35 L881.02,177.55 L881.61,180.79 L882.20,184.06 L882.78,187.36 L883.37,190.67 L883.96,194.01 L884.54,197.35 L885.13,200.69 L885.71,204.02 L886.30,207.34" fill="none" stroke="#d2651f" stroke-opacity="0.35" stroke-width="5.5" stroke-linejoin="round"/><path d="M681.70,222.48 L682.29,223.55 L682.87,224.58 L683.46,225.58 L684.04,226.53 L684.63,227.44 L685.22,228.30 L685.80,229.13 L686.39,229.91 L686.98,230.65 L687.56,231.34 L688.15,231.99 L688.73,232.59 L689.32,233.15 L689.91,233.66 L690.49,234.12 L691.08,234.54 L691.67,234.91 L692.25,235.24 L692.84,235.52 L693.42,235.75 L694.01,235.93 L694.60,236.07 L695.18,236.15 L695.77,236.20 L696.36,236.19 L696.94,236.15 L697.53,236.06 L698.11,235.92 L698.70,235.75 L699.29,235.53 L699.87,235.28 L700.46,234.98 L701.05,234.63 L701.63,234.25 L702.22,233.83 L702.80,233.36 L703.39,232.85 L703.98,232.31 L704.56,231.72 L705.15,231.09 L705.74,230.43 L706.32,229.72 L706.91,228.97 L707.49,228.19 L708.08,227.37 L708.67,226.51 L709.25,225.61 L709.84,224.67 L710.43,223.70 L711.01,222.69 L711.60,221.65 L712.18,220.58 L712.77,219.46 L713.36,218.32 L713.94,217.14 L714.53,215.93 L715.12,214.69 L715.70,213.42 L716.29,212.12 L716.87,210.79 L717.46,209.43 L718.05,208.05 L718.63,206.64 L719.22,205.20 L719.81,203.74 L720.39,202.26 L720.98,200.75 L721.56,199.22 L722.15,197.68 L722.74,196.11 L723.32,194.53 L723.91,192.93 L724.50,191.32 L725.08,189.69 L725.67,188.05 L726.25,186.40 L726.84,184.74 L727.43,183.07 L728.01,181.39 L728.60,179.71 L729.19,178.02 L729.77,176.33 L730.36,174.64 L730.94,172.96 L731.53,171.27 L732.12,169.59 L732.70,167.91 L733.29,166.24 L733.88,164.58 L734.46,162.92 L735.05,161.29 L735.63,159.66 L736.22,158.05 L736.81,156.46 L737.39,154.88 L737.98,153.33 L738.57,151.80 L739.15,150.29 L739.74,148.81 L740.32,147.35 L740.91,145.93 L741.50,144.53 L742.08,143.17 L742.67,141.85 L743.26,140.55 L743.84,139.30 L744.43,138.09 L745.01,136.91 L745.60,135.78 L746.19,134.69 L746.77,133.65 L747.36,132.66 L747.95,131.71 L748.53,130.81 L749.12,129.97 L749.70,129.18 L750.29,128.44 L750.88,127.76 L751.46,127.13 L752.05,126.56 L752.64,126.05 L753.22,125.60 L753.81,125.21 L754.39,124.88 L754.98,124.62 L755.57,124.42 L756.15,124.28 L756.74,124.21 L757.33,124.20 L757.91,124.25 L758.50,124.37 L759.08,124.55 L759.67,124.79 L760.26,125.10 L760.84,125.47 L761.43,125.90 L762.02,126.40 L762.60,126.96 L763.19,127.58 L763.77,128.26 L764.36,129.00 L764.95,129.81 L765.53,130.68 L766.12,131.60 L766.71,132.59 L767.29,133.63 L767.88,134.74 L768.46,135.89 L769.05,137.11 L769.64,138.38 L770.22,139.70 L770.81,141.07 L771.40,142.50 L771.98,143.97 L772.57,145.49 L773.15,147.06 L773.74,148.67 L774.33,150.32 L774.91,152.02 L775.50,153.75 L776.09,155.53 L776.67,157.34 L777.26,159.18 L777.84,161.05 L778.43,162.95 L779.02,164.88 L779.60,166.84 L780.19,168.81 L780.78,170.81 L781.36,172.83 L781.95,174.86 L782.53,176.91 L783.12,178.97 L783.71,181.03 L784.29,183.11 L784.88,185.19 L785.47,187.26 L786.05,189.34 L786.64,191.42 L787.22,193.49 L787.81,195.55 L788.40,197.60 L788.98,199.64 L789.57,201.66 L790.16,203.66 L790.74,205.65 L791.33,207.61 L791.91,209.54 L792.50,211.45 L793.09,213.33 L793.67,215.18 L794.26,216.99 L794.85,218.76 L795.43,220.50 L796.02,222.19 L796.60,223.84 L797.19,225.45 L797.78,227.01 L798.36,228.51 L798.95,229.97 L799.54,231.38 L800.12,232.73 L800.71,234.02 L801.29,235.26 L801.88,236.44 L802.47,237.55 L803.05,238.60 L803.64,239.59 L804.23,240.52 L804.81,241.38 L805.40,242.17 L805.98,242.89 L806.57,243.54 L807.16,244.12 L807.74,244.64 L808.33,245.08 L808.92,245.45 L809.50,245.74 L810.09,245.97 L810.67,246.12 L811.26,246.19 L811.85,246.20 L812.43,246.13 L813.02,245.99 L813.61,245.77 L814.19,245.48 L814.78,245.13 L815.36,244.70 L815.95,244.19 L816.54,243.62 L817.12,242.98 L817.71,242.26 L818.30,241.48 L818.88,240.63 L819.47,239.70 L820.05,238.72 L820.64,237.66 L821.23,236.54 L821.81,235.35 L822.40,234.10 L822.99,232.79 L823.57,231.41 L824.16,229.97 L824.74,228.48 L825.33,226.92 L825.92,225.32 L826.50,223.65 L827.09,221.93 L827.68,220.16 L828.26,218.34 L828.85,216.48 L829.43,214.56 L830.02,212.61 L830.61,210.61 L831.19,208.56 L831.78,206.49 L832.37,204.37 L832.95,202.22 L833.54,200.04 L834.12,197.84 L834.71,195.60 L835.30,193.34 L835.88,191.06 L836.47,188.76 L837.06,186.45 L837.64,184.12 L838.23,181.78 L838.81,179.44 L839.40,177.09 L839.99,174.74 L840.57,172.39 L841.16,170.04 L841.75,167.71 L842.33,165.38 L842.92,163.07 L843.50,160.78 L844.09,158.51 L844.68,156.26 L845.26,154.04 L845.85,151.85 L846.44,149.69 L847.02,147.58 L847.61,145.50 L848.19,143.47 L848.78,141.49 L849.37,139.55 L849.95,137.68 L850.54,135.86 L851.13,134.10 L851.71,132.41 L852.30,130.79 L852.88,129.24 L853.47,127.77 L854.06,126.37 L854.64,125.05 L855.23,123.82 L855.82,122.68 L856.40,121.63 L856.99,120.67 L857.57,119.81 L858.16,119.04 L858.75,118.38 L859.33,117.82 L859.92,117.37 L860.51,117.03 L861.09,116.80 L861.68,116.68 L862.26,116.67 L862.85,116.78 L863.44,117.00 L864.02,117.34 L864.61,117.80 L865.20,118.38 L865.78,119.08 L866.37,119.90 L866.95,120.83 L867.54,121.89 L868.13,123.07 L868.71,124.37 L869.30,125.78 L869.89,127.31 L870.47,128.96 L871.06,130.72 L871.64,132.59 L872.23,134.58 L872.82,136.67 L873.40,138.86 L873.99,141.16 L874.58,143.56 L875.16,146.05 L875.75,148.63 L876.33,151.30 L876.92,154.06 L877.51,156.89 L878.09,159.79 L878.68,162.77 L879.27,165.81 L879.85,168.91 L880.44,172.05 L881.02,175.25 L881.61,178.49 L882.20,181.76 L882.78,185.06 L883.37,188.37 L883.96,191.71 L884.54,195.05 L885.13,198.39 L885.71,201.72 L886.30,205.04" fill="none" stroke="#d2651f" stroke-width="5.5" stroke-linejoin="round"/><path d="M993.50,262.64 L993.94,266.43 L994.37,269.50 L994.81,271.82 L995.24,273.38 L995.68,274.18 L996.11,274.22 L996.55,273.50 L996.98,272.02 L997.42,269.78 L997.85,266.82 L998.29,263.18 L998.72,258.88 L999.16,253.82 L999.59,247.99 L1000.03,241.73 L1000.46,235.13 L1000.90,228.24 L1001.33,221.15 L1001.77,213.93 L1002.20,206.65 L1002.64,199.38 L1003.07,192.20 L1003.51,185.18 L1003.94,178.38 L1004.38,171.86 L1004.81,165.69 L1005.25,159.92 L1005.68,154.60 L1006.12,149.71 L1006.55,145.12 L1006.99,141.04 L1007.42,137.50 L1007.86,134.54 L1008.29,132.16 L1008.73,130.41 L1009.16,129.27 L1009.60,128.76 L1010.03,128.87 L1010.47,129.60 L1010.90,130.95 L1011.34,132.90 L1011.77,135.42 L1012.21,138.45 L1012.65,141.95 L1013.08,145.86 L1013.52,150.10 L1013.95,154.63 L1014.39,159.36 L1014.82,164.22 L1015.26,169.15 L1015.69,174.08 L1016.13,178.94 L1016.56,183.68 L1017.00,188.23 L1017.43,192.54 L1017.87,196.58 L1018.30,200.31 L1018.74,203.68 L1019.17,206.69 L1019.61,209.32 L1020.04,211.55 L1020.48,213.38 L1020.91,214.81 L1021.35,215.86 L1021.78,216.53 L1022.22,216.84 L1022.65,216.80 L1023.09,216.44 L1023.52,215.75 L1023.96,214.73 L1024.39,213.41 L1024.83,211.80 L1025.26,209.94 L1025.70,207.84 L1026.13,205.53 L1026.57,203.05 L1027.00,200.41 L1027.44,197.66 L1027.87,194.82 L1028.31,191.93 L1028.74,189.02 L1029.18,186.11 L1029.61,183.26 L1030.05,180.47 L1030.48,177.80 L1030.92,175.27 L1031.36,172.91 L1031.79,170.74 L1032.23,168.80 L1032.66,167.10 L1033.10,165.67 L1033.53,164.52 L1033.97,163.68 L1034.40,163.14 L1034.84,162.91 L1035.27,162.99 L1035.71,163.39 L1036.14,164.09 L1036.58,165.07 L1037.01,166.31 L1037.45,167.78 L1037.88,169.46 L1038.32,171.31 L1038.75,173.29 L1039.19,175.38 L1039.62,177.52 L1040.06,179.70 L1040.49,181.86 L1040.93,183.97 L1041.36,186.01 L1041.80,187.95 L1042.23,189.76 L1042.67,191.42 L1043.10,192.91 L1043.54,194.22 L1043.97,195.35 L1044.41,196.28 L1044.84,197.02 L1045.28,197.58 L1045.71,197.95 L1046.15,198.14 L1046.58,198.17 L1047.02,198.04 L1047.45,197.76 L1047.89,197.34 L1048.32,196.79 L1048.76,196.11 L1049.19,195.33 L1049.63,194.45 L1050.07,193.51 L1050.50,192.50 L1050.94,191.44 L1051.37,190.35 L1051.81,189.25 L1052.24,188.14 L1052.68,187.04 L1053.11,185.96 L1053.55,184.92 L1053.98,183.91 L1054.42,182.96 L1054.85,182.06 L1055.29,181.24 L1055.72,180.48 L1056.16,179.81 L1056.59,179.21 L1057.03,178.70 L1057.46,178.28 L1057.90,177.96 L1058.33,177.72 L1058.77,177.57 L1059.20,177.51 L1059.64,177.54 L1060.07,177.65 L1060.51,177.85 L1060.94,178.12 L1061.38,178.47 L1061.81,178.89 L1062.25,179.37 L1062.68,179.91 L1063.12,180.50 L1063.55,181.14 L1063.99,181.81 L1064.42,182.51 L1064.86,183.23 L1065.29,183.97 L1065.73,184.71 L1066.16,185.45 L1066.60,186.17 L1067.03,186.87 L1067.47,187.54 L1067.91,188.17 L1068.34,188.76 L1068.78,189.29 L1069.21,189.77 L1069.65,190.18 L1070.08,190.52 L1070.52,190.79 L1070.95,190.97 L1071.39,191.08 L1071.82,191.11 L1072.26,191.06 L1072.69,190.93 L1073.13,190.72 L1073.56,190.44 L1074.00,190.10 L1074.43,189.69 L1074.87,189.24 L1075.30,188.75 L1075.74,188.23 L1076.17,187.69 L1076.61,187.14 L1077.04,186.58 L1077.48,186.04 L1077.91,185.51 L1078.35,185.00 L1078.78,184.52 L1079.22,184.08 L1079.65,183.68 L1080.09,183.32 L1080.52,183.00 L1080.96,182.73 L1081.39,182.51 L1081.83,182.33 L1082.26,182.20 L1082.70,182.11 L1083.13,182.06 L1083.57,182.05 L1084.00,182.08 L1084.44,182.14 L1084.87,182.24 L1085.31,182.37 L1085.74,182.54 L1086.18,182.73 L1086.62,182.95 L1087.05,183.20 L1087.49,183.46 L1087.92,183.74 L1088.36,184.03 L1088.79,184.33 L1089.23,184.63 L1089.66,184.94 L1090.10,185.25 L1090.53,185.56 L1090.97,185.86 L1091.40,186.15 L1091.84,186.42 L1092.27,186.69 L1092.71,186.93 L1093.14,187.16 L1093.58,187.36 L1094.01,187.55 L1094.45,187.71 L1094.88,187.84 L1095.32,187.95 L1095.75,188.03 L1096.19,188.08 L1096.62,188.11 L1097.06,188.11 L1097.49,188.09 L1097.93,188.03 L1098.36,187.96 L1098.80,187.86 L1099.23,187.74 L1099.67,187.60 L1100.10,187.45 L1100.54,187.28 L1100.97,187.10 L1101.41,186.91 L1101.84,186.71 L1102.28,186.51 L1102.71,186.31 L1103.15,186.10 L1103.58,185.90 L1104.02,185.71 L1104.45,185.52 L1104.89,185.34 L1105.33,185.17 L1105.76,185.00 L1106.20,184.86 L1106.63,184.72 L1107.07,184.60 L1107.50,184.49 L1107.94,184.39 L1108.37,184.31 L1108.81,184.24 L1109.24,184.19 L1109.68,184.15 L1110.11,184.12 L1110.55,184.10 L1110.98,184.10 L1111.42,184.10 L1111.85,184.12 L1112.29,184.14 L1112.72,184.17 L1113.16,184.21 L1113.59,184.27 L1114.03,184.33 L1114.46,184.39 L1114.90,184.47 L1115.33,184.54 L1115.77,184.63 L1116.20,184.71 L1116.64,184.80 L1117.07,184.89 L1117.51,184.98 L1117.94,185.07 L1118.38,185.15 L1118.81,185.24 L1119.25,185.32 L1119.68,185.40 L1120.12,185.47 L1120.55,185.54 L1120.99,185.61 L1121.42,185.66 L1121.86,185.72 L1122.29,185.77 L1122.73,185.81 L1123.16,185.84 L1123.60,185.87" fill="none" stroke="#2f6fae" stroke-opacity="0.35" stroke-width="5.5" stroke-linejoin="round"/><path d="M993.50,260.64 L993.94,264.43 L994.37,267.50 L994.81,269.82 L995.24,271.38 L995.68,272.18 L996.11,272.22 L996.55,271.50 L996.98,270.02 L997.42,267.78 L997.85,264.82 L998.29,261.18 L998.72,256.88 L999.16,251.87 L999.59,246.15 L1000.03,239.98 L1000.46,233.45 L1000.90,226.60 L1001.33,219.52 L1001.77,212.28 L1002.20,204.96 L1002.64,197.61 L1003.07,190.33 L1003.51,183.18 L1003.94,176.22 L1004.38,169.53 L1004.81,163.16 L1005.25,157.17 L1005.68,151.63 L1006.12,146.52 L1006.55,141.78 L1006.99,137.56 L1007.42,133.90 L1007.86,130.84 L1008.29,128.39 L1008.73,126.57 L1009.16,125.40 L1009.60,124.87 L1010.03,124.99 L1010.47,125.74 L1010.90,127.13 L1011.34,129.15 L1011.77,131.75 L1012.21,134.89 L1012.65,138.50 L1013.08,142.54 L1013.52,146.93 L1013.95,151.60 L1014.39,156.49 L1014.82,161.51 L1015.26,166.61 L1015.69,171.70 L1016.13,176.73 L1016.56,181.62 L1017.00,186.32 L1017.43,190.78 L1017.87,194.96 L1018.30,198.80 L1018.74,202.29 L1019.17,205.40 L1019.61,208.11 L1020.04,210.42 L1020.48,212.31 L1020.91,213.79 L1021.35,214.87 L1021.78,215.57 L1022.22,215.89 L1022.65,215.85 L1023.09,215.48 L1023.52,214.76 L1023.96,213.71 L1024.39,212.34 L1024.83,210.68 L1025.26,208.76 L1025.70,206.59 L1026.13,204.20 L1026.57,201.64 L1027.00,198.91 L1027.44,196.07 L1027.87,193.14 L1028.31,190.15 L1028.74,187.14 L1029.18,184.14 L1029.61,181.18 L1030.05,178.31 L1030.48,175.55 L1030.92,172.93 L1031.36,170.49 L1031.79,168.25 L1032.23,166.24 L1032.66,164.49 L1033.10,163.01 L1033.53,161.83 L1033.97,160.95 L1034.40,160.39 L1034.84,160.16 L1035.27,160.25 L1035.71,160.66 L1036.14,161.38 L1036.58,162.39 L1037.01,163.67 L1037.45,165.19 L1037.88,166.93 L1038.32,168.84 L1038.75,170.89 L1039.19,173.04 L1039.62,175.26 L1040.06,177.51 L1040.49,179.74 L1040.93,181.93 L1041.36,184.03 L1041.80,186.04 L1042.23,187.90 L1042.67,189.62 L1043.10,191.16 L1043.54,192.51 L1043.97,193.68 L1044.41,194.64 L1044.84,195.41 L1045.28,195.98 L1045.71,196.36 L1046.15,196.56 L1046.58,196.59 L1047.02,196.46 L1047.45,196.18 L1047.89,195.74 L1048.32,195.17 L1048.76,194.47 L1049.19,193.66 L1049.63,192.76 L1050.07,191.78 L1050.50,190.73 L1050.94,189.64 L1051.37,188.52 L1051.81,187.38 L1052.24,186.23 L1052.68,185.10 L1053.11,183.98 L1053.55,182.90 L1053.98,181.86 L1054.42,180.88 L1054.85,179.95 L1055.29,179.10 L1055.72,178.32 L1056.16,177.62 L1056.59,177.01 L1057.03,176.48 L1057.46,176.05 L1057.90,175.71 L1058.33,175.46 L1058.77,175.31 L1059.20,175.25 L1059.64,175.28 L1060.07,175.39 L1060.51,175.60 L1060.94,175.88 L1061.38,176.24 L1061.81,176.67 L1062.25,177.17 L1062.68,177.73 L1063.12,178.34 L1063.55,178.99 L1063.99,179.69 L1064.42,180.42 L1064.86,181.16 L1065.29,181.92 L1065.73,182.69 L1066.16,183.45 L1066.60,184.19 L1067.03,184.92 L1067.47,185.61 L1067.91,186.27 L1068.34,186.87 L1068.78,187.42 L1069.21,187.92 L1069.65,188.34 L1070.08,188.69 L1070.52,188.96 L1070.95,189.16 L1071.39,189.27 L1071.82,189.30 L1072.26,189.25 L1072.69,189.11 L1073.13,188.90 L1073.56,188.61 L1074.00,188.25 L1074.43,187.84 L1074.87,187.37 L1075.30,186.86 L1075.74,186.32 L1076.17,185.76 L1076.61,185.19 L1077.04,184.62 L1077.48,184.06 L1077.91,183.51 L1078.35,182.99 L1078.78,182.49 L1079.22,182.04 L1079.65,181.62 L1080.09,181.25 L1080.52,180.92 L1080.96,180.65 L1081.39,180.42 L1081.83,180.23 L1082.26,180.10 L1082.70,180.00 L1083.13,179.95 L1083.57,179.94 L1084.00,179.97 L1084.44,180.03 L1084.87,180.14 L1085.31,180.27 L1085.74,180.44 L1086.18,180.64 L1086.62,180.87 L1087.05,181.12 L1087.49,181.39 L1087.92,181.68 L1088.36,181.98 L1088.79,182.29 L1089.23,182.61 L1089.66,182.93 L1090.10,183.25 L1090.53,183.56 L1090.97,183.87 L1091.40,184.17 L1091.84,184.46 L1092.27,184.73 L1092.71,184.98 L1093.14,185.22 L1093.58,185.43 L1094.01,185.62 L1094.45,185.78 L1094.88,185.92 L1095.32,186.03 L1095.75,186.12 L1096.19,186.17 L1096.62,186.20 L1097.06,186.20 L1097.49,186.17 L1097.93,186.12 L1098.36,186.04 L1098.80,185.94 L1099.23,185.82 L1099.67,185.67 L1100.10,185.51 L1100.54,185.34 L1100.97,185.15 L1101.41,184.96 L1101.84,184.75 L1102.28,184.55 L1102.71,184.34 L1103.15,184.13 L1103.58,183.92 L1104.02,183.72 L1104.45,183.52 L1104.89,183.34 L1105.33,183.16 L1105.76,182.99 L1106.20,182.84 L1106.63,182.70 L1107.07,182.57 L1107.50,182.46 L1107.94,182.36 L1108.37,182.27 L1108.81,182.20 L1109.24,182.15 L1109.68,182.10 L1110.11,182.07 L1110.55,182.06 L1110.98,182.05 L1111.42,182.06 L1111.85,182.07 L1112.29,182.10 L1112.72,182.13 L1113.16,182.18 L1113.59,182.23 L1114.03,182.29 L1114.46,182.36 L1114.90,182.44 L1115.33,182.52 L1115.77,182.60 L1116.20,182.69 L1116.64,182.78 L1117.07,182.87 L1117.51,182.96 L1117.94,183.06 L1118.38,183.15 L1118.81,183.23 L1119.25,183.32 L1119.68,183.40 L1120.12,183.47 L1120.55,183.55 L1120.99,183.61 L1121.42,183.67 L1121.86,183.73 L1122.29,183.78 L1122.73,183.82 L1123.16,183.86 L1123.60,183.89" fill="none" stroke="#2f6fae" stroke-width="5.5" stroke-linejoin="round"/></g>
<rect x="686.7" y="62.2" width="431.89999999999986" height="230.40000000000003" fill="none" stroke="#808080" stroke-width="2"/>
<line x1="677" y1="252.4" x2="686.7" y2="252.4" stroke="#000" stroke-width="2"/>
<text x="666" y="259.0" text-anchor="end" font-family='"Liberation Serif", serif' font-size="26">−1</text>
<line x1="677" y1="182.4" x2="686.7" y2="182.4" stroke="#000" stroke-width="2"/>
<text x="666" y="189.0" text-anchor="end" font-family='"Liberation Serif", serif' font-size="26">0</text>
<line x1="677" y1="112.4" x2="686.7" y2="112.4" stroke="#000" stroke-width="2"/>
<text x="666" y="119.0" text-anchor="end" font-family='"Liberation Serif", serif' font-size="26">1</text>
<line x1="748.3" y1="292.6" x2="748.3" y2="302" stroke="#000" stroke-width="2"/>
<text x="748.3" y="327.3" text-anchor="middle" font-family='"Liberation Serif", serif' font-size="26">−100</text>
<line x1="857.3" y1="292.6" x2="857.3" y2="302" stroke="#000" stroke-width="2"/>
<text x="857.3" y="327.3" text-anchor="middle" font-family='"Liberation Serif", serif' font-size="26">−50</text>
<line x1="966.3" y1="292.6" x2="966.3" y2="302" stroke="#000" stroke-width="2"/>
<text x="966.3" y="327.3" text-anchor="middle" font-family='"Liberation Serif", serif' font-size="26">0</text>
<line x1="1075.3" y1="292.6" x2="1075.3" y2="302" stroke="#000" stroke-width="2"/>
<text x="1075.3" y="327.3" text-anchor="middle" font-family='"Liberation Serif", serif' font-size="26">50</text>
<text transform="translate(615,251.4) rotate(-90)" font-family='"Liberation Serif", serif' font-size="27">Strain [10<tspan dy="-11" font-size="19">−21</tspan><tspan dy="11">]</tspan></text>
<text x="842" y="367" font-family='"Liberation Serif", serif' font-size="25">t - t<tspan dy="4" font-size="18">peak</tspan><tspan dy="-4" dx="3"> [</tspan><tspan font-style="italic">t</tspan><tspan dy="5" font-size="18" font-style="italic">M</tspan><tspan dy="-5" dx="2">]</tspan></text>
<text x="846" y="91.8" font-family='"Liberation Serif", serif' font-size="27" font-style="italic" fill="#d2651f">t<tspan dx="4" dy="5" font-size="24" font-style="normal">&lt;</tspan></text>
<text x="1006" y="91.8" font-family='"Liberation Serif", serif' font-size="27" font-style="italic" fill="#2f6fae">t<tspan dx="4" dy="5" font-size="24" font-style="normal">&gt;</tspan></text>
</svg>
</body></html>
